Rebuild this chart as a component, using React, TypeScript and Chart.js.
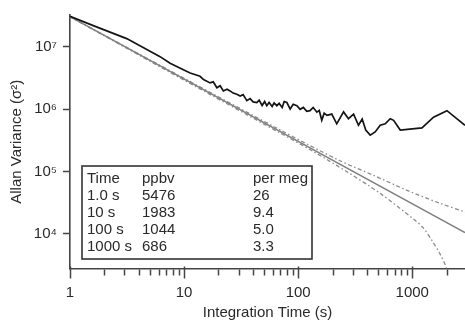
import React, { useEffect, useRef } from 'react';
import { Chart, registerables } from 'chart.js';

Chart.register(...registerables);

// ---- data ----
const measuredTau = [1, 1.6, 3.14, 6.16, 7.54, 9.86, 11.3, 13.8, 14.8, 16.9, 18.0, 19.4, 20.7, 22.1, 23.8, 25.3, 26.9, 29.0, 31.0, 32.9, 35.5, 37.9, 40.3, 43.4, 45.5, 48.3, 50.8, 53.1, 55.6, 59.1, 61.5, 65.0, 68.1, 72.4, 75.4, 79.6, 85.1, 90.4, 97.5, 104, 111, 119, 127, 135.5, 146, 153, 161, 169, 179, 197, 218, 250, 276, 306, 338, 364, 391, 428, 473, 524, 579, 641, 686, 785, 1217, 1537, 2014, 2900];
const measuredVar = [3.05e7, 2.16e7, 1.34e7, 6.89e6, 5.41e6, 4.25e6, 3.77e6, 3.34e6, 2.96e6, 2.62e6, 2.72e6, 2.19e6, 2.36e6, 1.95e6, 2.08e6, 1.95e6, 1.80e6, 1.72e6, 1.62e6, 1.70e6, 1.36e6, 1.47e6, 1.30e6, 1.27e6, 1.39e6, 1.14e6, 1.32e6, 1.13e6, 1.27e6, 1.10e6, 1.25e6, 1.13e6, 1.23e6, 1.06e6, 1.32e6, 1.27e6, 1.00e6, 1.19e6, 1.13e6, 9.9e5, 1.06e6, 9.2e5, 9.4e5, 1.06e6, 8.9e5, 9.5e5, 6.6e5, 8.6e5, 7.9e5, 8.3e5, 5.8e5, 9.0e5, 7.0e5, 8.3e5, 5.5e5, 6.9e5, 4.6e5, 3.82e5, 4.3e5, 5.5e5, 5.8e5, 7.0e5, 6.6e5, 4.6e5, 4.98e5, 7.4e5, 9.4e5, 5.5e5];

const whiteTau = [1, 2900];
const whiteVar = [3.0e7, 1.05e4];

const upperTau = [1, 10, 70, 230, 450, 900, 1750, 2900];
const upperVar = [3.0e7, 3.1e6, 4.6e5, 1.5e5, 8.8e4, 5.0e4, 3.1e4, 2.25e4];

const lowerTau = [1, 10, 70, 135, 270, 520, 1020, 1250, 1520, 1750, 2000, 2200];
const lowerVar = [3.0e7, 2.9e6, 4.1e5, 2.1e5, 9.8e4, 4.5e4, 1.75e4, 1.25e4, 7.4e3, 4.8e3, 2.8e3, 1.3e3];

const xTickValues = [1, 2, 3, 4, 5, 6, 7, 8, 9, 10, 20, 30, 40, 50, 60, 70, 80, 90, 100, 200, 300, 400, 500, 600, 700, 800, 900, 1000, 2000];
const xTickLabels: Record<number, string> = { 1: '1', 10: '10', 100: '100', 1000: '1000' };
const yTickValues = [1e4, 1e5, 1e6, 1e7];
const yTickLabels = ['10\u2074', '10\u2075', '10\u2076', '10\u2077'];

const tableHeader = ['Time', 'ppbv', 'per meg'];
const tableTime = ['1.0 s', '10 s', '100 s', '1000 s'];
const tablePpbv = ['5476', '1983', '1044', '686'];
const tablePerMeg = ['26', '9.4', '5.0', '3.3'];

const FONT = "'Liberation Sans', Arial, Helvetica, sans-serif";
const AXIS = '#444';
const TEXT = '#2a2a2a';

const toPoints = (xs: number[], ys: number[]) => xs.map((x, i) => ({ x, y: ys[i] }));

const xTicksPlugin = {
  id: 'xTicksPlugin',
  afterDraw(chart: any) {
    const sx = chart.scales.x;
    const ctx = chart.ctx;
    const base = chart.chartArea.bottom;
    ctx.save();
    ctx.strokeStyle = AXIS;
    ctx.lineWidth = 1.5;
    sx.ticks.forEach((t: any) => {
      const px = Math.round(sx.getPixelForValue(t.value)) + 0.5;
      const major = !!xTickLabels[t.value];
      ctx.beginPath();
      if (major) {
        ctx.moveTo(px, base - 2);
        ctx.lineTo(px, base + 10);
      } else {
        ctx.moveTo(px, base + 1);
        ctx.lineTo(px, base + 7);
      }
      ctx.stroke();
    });
    ctx.restore();
  },
};

const tablePlugin = {
  id: 'tablePlugin',
  afterDraw(chart: any) {
    const ca = chart.chartArea;
    const ctx = chart.ctx;
    const left = ca.left + 12;
    const top = ca.top + 151;
    const right = ca.left + 242;
    const bottom = ca.top + 244;
    ctx.save();
    ctx.fillStyle = '#fff';
    ctx.fillRect(left, top, right - left, bottom - top);
    ctx.strokeStyle = '#333';
    ctx.lineWidth = 1.6;
    ctx.strokeRect(left, top, right - left, bottom - top);
    ctx.fillStyle = TEXT;
    ctx.font = `15px ${FONT}`;
    ctx.textBaseline = 'middle';
    ctx.textAlign = 'left';
    const cols = [left + 5, left + 60, left + 171];
    const rowY = (r: number) => top + 13 + r * 17;
    tableHeader.forEach((h, i) => ctx.fillText(h, cols[i], rowY(0)));
    tableTime.forEach((s, r) => {
      ctx.fillText(s, cols[0], rowY(r + 1));
      ctx.fillText(tablePpbv[r], cols[1], rowY(r + 1));
      ctx.fillText(tablePerMeg[r], cols[2], rowY(r + 1));
    });
    ctx.restore();
  },
};

export default function App() {
  const ref = useRef<HTMLCanvasElement | null>(null);
  useEffect(() => {
    if (!ref.current) return;
    Chart.defaults.font.family = FONT;
    const chart = new Chart(ref.current, {
      type: 'line',
      data: {
        datasets: [
          {
            label: 'Measured',
            data: toPoints(measuredTau, measuredVar),
            borderColor: '#141414',
            borderWidth: 1.7,
            pointRadius: 0,
            tension: 0,
          },
          {
            label: 'White noise',
            data: toPoints(whiteTau, whiteVar),
            borderColor: '#808080',
            borderWidth: 1.5,
            pointRadius: 0,
          },
          {
            label: 'Upper',
            data: toPoints(upperTau, upperVar),
            borderColor: '#8c8c8c',
            borderWidth: 1.3,
            borderDash: [4, 2.5, 1.5, 2.5],
            pointRadius: 0,
            tension: 0.3,
          },
          {
            label: 'Lower',
            data: toPoints(lowerTau, lowerVar),
            borderColor: '#8c8c8c',
            borderWidth: 1.3,
            borderDash: [4, 2.5, 1.5, 2.5],
            pointRadius: 0,
            tension: 0.3,
          },
        ],
      },
      options: {
        animation: false,
        responsive: false,
        devicePixelRatio: 1,
        layout: { padding: { top: 11, right: 0, left: 0, bottom: 0 } },
        plugins: { legend: { display: false }, tooltip: { enabled: false } },
        scales: {
          x: {
            type: 'logarithmic',
            position: 'bottom',
            min: 1,
            max: 2900,
            border: { display: true, color: AXIS, width: 1.6 },
            grid: { display: true, drawOnChartArea: false, drawTicks: false },
            ticks: {
              autoSkip: false,
              maxRotation: 0,
              padding: 15,
              color: TEXT,
              font: { size: 15, family: FONT },
              callback: (v: any) => xTickLabels[Number(v)] ?? '',
            },
            title: {
              display: true,
              text: 'Integration Time (s)',
              color: TEXT,
              font: { size: 15, family: FONT },
              padding: 2,
            },
            afterBuildTicks: (s: any) => {
              s.ticks = xTickValues.map((v) => ({ value: v, major: !!xTickLabels[v] }));
            },
            afterFit: (s: any) => {
              s.height = 55.5;
            },
          },
          y: {
            type: 'logarithmic',
            position: 'left',
            min: 2800,
            max: 3.2e7,
            border: { display: true, color: AXIS, width: 1.6 },
            grid: {
              display: true,
              drawOnChartArea: false,
              drawTicks: true,
              tickLength: 7,
              tickColor: AXIS,
              tickWidth: 1.5,
            },
            ticks: {
              autoSkip: false,
              padding: 6,
              color: TEXT,
              font: { size: 15, family: FONT },
              callback: (_v: any, i: number) => yTickLabels[i] ?? '',
            },
            title: {
              display: true,
              text: 'Allan Variance (\u03c3\u00b2)',
              color: TEXT,
              font: { size: 15, family: FONT },
              padding: { top: 8, bottom: 0 },
            },
            afterBuildTicks: (s: any) => {
              s.ticks = yTickValues.map((v) => ({ value: v, major: true }));
            },
            afterFit: (s: any) => {
              s.width = 70;
            },
          },
        },
      },
      plugins: [xTicksPlugin, tablePlugin],
    });
    return () => chart.destroy();
  }, []);

  return (
    <div style={{ position: 'fixed', left: 0, top: 0, width: 465, height: 324, background: '#fff' }}>
      <canvas ref={ref} width={465} height={324} style={{ display: 'block', width: 465, height: 324 }} />
    </div>
  );
}
